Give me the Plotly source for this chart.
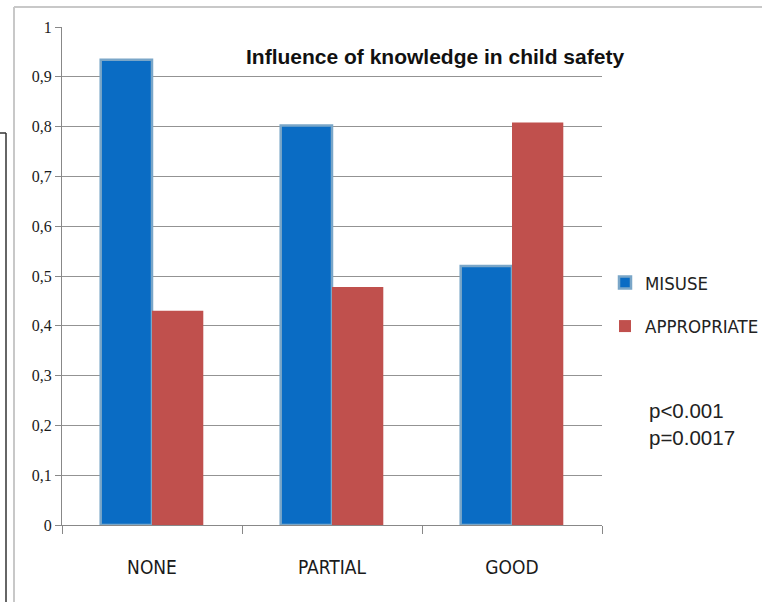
import plotly.graph_objects as go

categories = ["NONE", "PARTIAL", "GOOD"]
misuse = [0.934, 0.802, 0.52]
appropriate = [0.43, 0.478, 0.808]
y_tickvals = [0, 0.1, 0.2, 0.3, 0.4, 0.5, 0.6, 0.7, 0.8, 0.9, 1]
y_ticktext = ["0", "0,1", "0,2", "0,3", "0,4", "0,5", "0,6", "0,7", "0,8", "0,9", "1"]
title_text = "Influence of knowledge in child safety"
pvalues = ["p<0.001", "p=0.0017"]

fig = go.Figure()
fig.add_trace(go.Bar(
    x=categories, y=misuse, name="MISUSE", legendgroup="a",
    marker=dict(color="#0a6cc4", line=dict(color="#7aa6c8", width=2.5)),
))
fig.add_trace(go.Bar(
    x=categories, y=appropriate, name="APPROPRIATE", legendgroup="b",
    marker=dict(color="#c0504d", line=dict(width=0)),
))

narrow = "DejaVu Sans Condensed, Liberation Sans Narrow, sans-serif"

L, R, T, B = 62, 160, 27, 77
W = 762 - L - R
H = 602 - T - B


def px(xp):
    return (xp - L) / W


def py(yp):
    return (602 - B - yp) / H


fig.update_layout(
    width=762, height=602,
    paper_bgcolor="white", plot_bgcolor="white",
    margin=dict(l=L, r=R, t=T, b=B, autoexpand=False),
    barmode="group", bargap=0.43, bargroupgap=0.0,
    showlegend=True,
    legend=dict(
        x=px(605), xanchor="left", y=py(264), yanchor="top",
        font=dict(family=narrow, size=18.5, color="#222"),
        tracegroupgap=16.5, itemwidth=30, bgcolor="rgba(0,0,0,0)",
    ),
    xaxis=dict(
        showline=True, linecolor="#888", linewidth=1,
        ticks="outside", tickson="boundaries", ticklen=8, tickcolor="#888",
        tickfont=dict(family=narrow, size=19, color="#1a1a1a"),
        ticklabelstandoff=25,
        showgrid=False,
    ),
    yaxis=dict(
        range=[0, 1], tickvals=y_tickvals, ticktext=y_ticktext,
        showline=True, linecolor="#888", linewidth=1,
        ticks="outside", ticklen=6, tickcolor="#888",
        showgrid=True, gridcolor="#939393", gridwidth=1,
        tickfont=dict(family="Liberation Serif, serif", size=16, color="#1a1a1a"),
        zeroline=False,
    ),
    annotations=[
        dict(text="<b>" + title_text + "</b>", x=px(435), y=py(57), xref="paper", yref="paper",
             xanchor="center", yanchor="middle", showarrow=False,
             font=dict(family="Liberation Sans, Arial, sans-serif", size=21, color="#111")),
        dict(text="<br>".join(pvalues), x=px(647), y=py(424), xref="paper", yref="paper",
             xanchor="left", yanchor="middle", showarrow=False, align="left",
             font=dict(family="Liberation Sans, Arial, sans-serif", size=20.5, color="#222")),
    ],
    shapes=[
        dict(type="line", xref="paper", yref="paper", x0=px(14), x1=px(14), y0=py(602), y1=py(7),
             line=dict(color="#c8c8c8", width=2)),
        dict(type="line", xref="paper", yref="paper", x0=px(14), x1=px(762), y0=py(7), y1=py(7),
             line=dict(color="#c8c8c8", width=2)),
        dict(type="line", xref="paper", yref="paper", x0=px(6), x1=px(6), y0=py(602), y1=py(133),
             line=dict(color="#333", width=1.5)),
        dict(type="line", xref="paper", yref="paper", x0=px(0), x1=px(6), y0=py(133), y1=py(133),
             line=dict(color="#333", width=1.5)),
    ],
)

fig.write_html("out.html", config={"displayModeBar": False},
               post_script="document.body.style.margin='0px';")
